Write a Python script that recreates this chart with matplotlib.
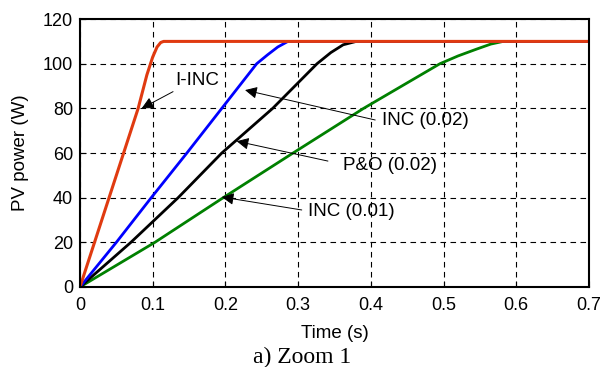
import numpy as np
import matplotlib.pyplot as plt

plt.rcParams['font.family'] = ['Liberation Sans', 'DejaVu Sans']

# data (time in s, power in W)
t_iinc = [0, 0.02, 0.04, 0.06, 0.08, 0.092, 0.1, 0.106, 0.111, 0.115, 0.7]
p_iinc = [0, 20, 40, 60, 80, 95, 103, 107.5, 109.5, 110, 110]

t_inc02 = [0, 0.05, 0.098, 0.147, 0.195, 0.243, 0.258, 0.272, 0.286, 0.7]
p_inc02 = [0, 20, 40, 60, 80, 100, 104, 107.5, 110, 110]

t_po02 = [0, 0.07, 0.135, 0.195, 0.265, 0.326, 0.345, 0.362, 0.38, 0.7]
p_po02 = [0, 20, 40, 60, 80, 100, 105, 108.5, 110, 110]

t_inc01 = [0, 0.103, 0.197, 0.293, 0.39, 0.495, 0.52, 0.545, 0.565, 0.582, 0.7]
p_inc01 = [0, 20, 40, 60, 80, 100, 103.5, 106.5, 108.8, 110, 110]

fig = plt.figure(figsize=(6.05, 3.67), dpi=100)
ax = fig.add_axes([0.1322, 0.218, 0.8413, 0.730])

ax.plot(t_inc01, p_inc01, color='#008000', lw=2)
ax.plot(t_po02, p_po02, color='black', lw=2)
ax.plot(t_inc02, p_inc02, color='#0000ff', lw=2)
ax.plot(t_iinc, p_iinc, color='#e03a10', lw=2.2)

ax.set_xlim(0, 0.7)
ax.set_ylim(0, 120)
ax.set_xticks(np.arange(0, 0.71, 0.1))
ax.set_xticklabels(['0', '0.1', '0.2', '0.3', '0.4', '0.5', '0.6', '0.7'])
ax.set_yticks(np.arange(0, 121, 20))
ax.tick_params(direction='in', labelsize=13, length=4)
ax.tick_params(axis='x', pad=7)
ax.tick_params(axis='y', pad=5)
ax.grid(True, color='black', linestyle=(0, (5, 4)), lw=0.8)
for s in ax.spines.values():
    s.set_linewidth(1.5)

ax.set_xlabel('Time (s)', fontsize=13.5, labelpad=8)
ax.set_ylabel('PV power (W)', fontsize=13.5, labelpad=10)

arr = dict(arrowstyle='-|>', color='black', lw=0.7, mutation_scale=18,
           shrinkA=0, shrinkB=0)
# (label, text position, line start, arrow tip)
notes = [
    ('I-INC', (0.1306, 92.3), (0.128, 87.5), (0.0848, 80)),
    ('INC (0.02)', (0.4155, 74.6), (0.406, 74.8), (0.227, 88.2)),
    ('P&O (0.02)', (0.362, 54.2), (0.341, 56.4), (0.2155, 65.3)),
    ('INC (0.01)', (0.3136, 33.6), (0.305, 34.5), (0.195, 40.3)),
]
for label, txy, start, tip in notes:
    ax.text(txy[0], txy[1], label, fontsize=13.5, ha='left', va='center')
    ax.annotate('', xy=tip, xytext=start, arrowprops=arr)

fig.text(302 / 605, 1 - 363 / 367, 'a) Zoom 1', ha='center', va='baseline',
         fontsize=17, family='Liberation Serif')

fig.savefig('out.png', dpi=100)
